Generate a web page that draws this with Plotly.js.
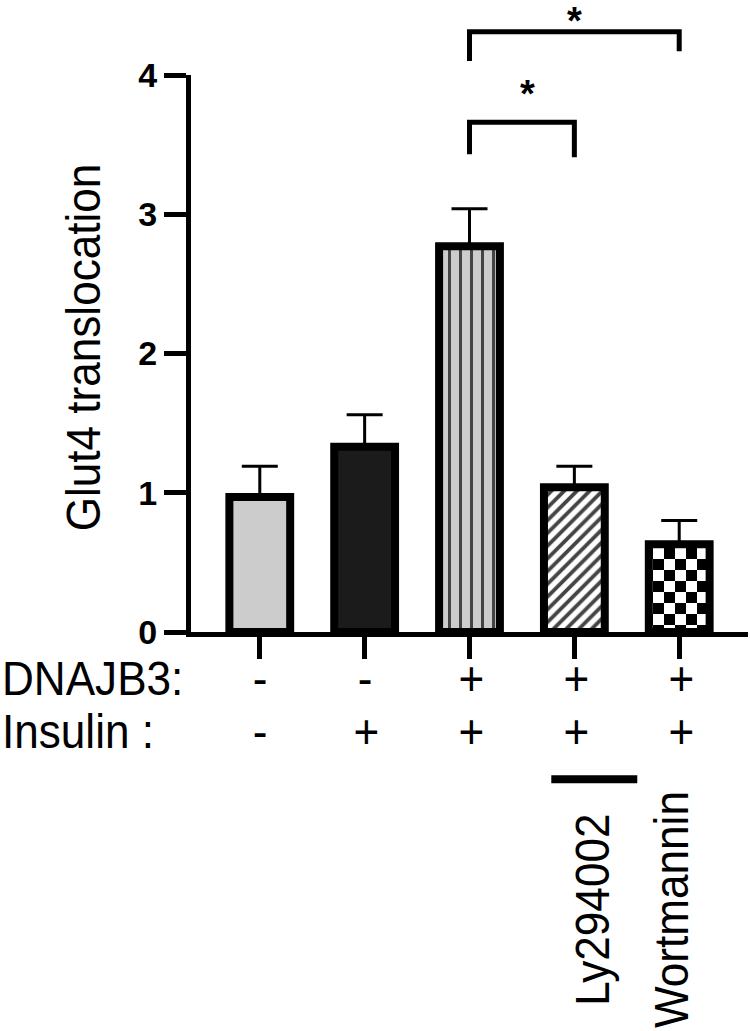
<!DOCTYPE html>
<html>
<head>
<meta charset="utf-8">
<script src="https://cdn.plot.ly/plotly-3.0.1.min.js"></script>
<style>
  html, body { margin: 0; padding: 0; background: #fff; }
  #chart { width: 750px; height: 1031px; }
</style>
</head>
<body>
<div id="chart"></div>
<script>
// groups, left to right
var categories = ['Control', 'Insulin', 'DNAJB3 + Insulin', 'DNAJB3 + Insulin + Ly294002', 'DNAJB3 + Insulin + Wortmannin'];
var meanValues = [0.97, 1.33, 2.77, 1.04, 0.63];
var semValues = [0.22, 0.23, 0.27, 0.15, 0.17];

// condition rows under the axis
var dnajb3Signs = ['-', '-', '+', '+', '+'];
var insulinSigns = ['-', '+', '+', '+', '+'];
var inhibitorLabels = ['', '', '', 'Ly294002', 'Wortmannin'];

// significance brackets (group index from / to, bar top, leg ends)
var bracketFrom = [2, 2];
var bracketTo = [3, 4];
var bracketTop = [3.66, 4.31];
var bracketLeftEnd = [3.43, 4.10];
var bracketRightEnd = [3.41, 4.17];
var bracketMarks = ['*', '*'];

var yMax = 4;
var font = 'Liberation Sans, Arial, Helvetica, sans-serif';
var textSize = 49;
var narrow = 0.9;   // the figure uses a condensed sans

var fillColors = ['#cccccc', '#1b1b1b', '#cccccc', '#ffffff', '#ffffff'];
var patternShapes = ['', '', '|', '/', '+'];
var patternSizes = [8, 8, 11, 9, 11];
var patternSolid = [0.3, 0.3, 0.27, 0.42, 0.3];

var gd = document.getElementById('chart');

var traceBars = {
  type: 'bar',
  x: categories,
  y: meanValues,
  width: 0.58,
  marker: {
    color: fillColors,
    line: {color: '#000', width: 8},
    pattern: {
      shape: patternShapes,
      size: patternSizes,
      solidity: patternSolid,
      fgcolor: '#000000',
      fgopacity: 1,
      bgcolor: fillColors,
      fillmode: 'overlay'
    }
  },
  error_y: {
    type: 'data',
    symmetric: false,
    array: semValues,
    arrayminus: semValues.map(function () { return 0; }),
    color: '#000',
    thickness: 3,
    width: 18
  },
  hoverinfo: 'skip'
};

function py(v) { return v / yMax; }   // data value -> paper y (domain [0,1], range [0,yMax])

var annotations = [];
var shapes = [];

// y title
annotations.push({
  xref: 'paper', yref: 'paper', x: -0.194, y: 0.512,
  text: 'Glut4 translocation', textangle: -90, showarrow: false,
  xanchor: 'center', yanchor: 'middle',
  font: {family: font, size: textSize, color: '#000'}
});

// row labels
var rowY = [-0.082, -0.178];
var rowNames = ['DNAJB3:', 'Insulin :'];
var rowSigns = [dnajb3Signs, insulinSigns];
for (var r = 0; r < rowNames.length; r++) {
  annotations.push({
    xref: 'paper', yref: 'paper', x: -0.343, y: rowY[r],
    text: rowNames[r], showarrow: false, xanchor: 'left', yanchor: 'middle',
    font: {family: font, size: textSize, color: '#000'}
  });
  for (var i = 0; i < categories.length; i++) {
    annotations.push({
      xref: 'x', yref: 'paper', x: i, y: rowY[r],
      text: rowSigns[r][i], showarrow: false, xanchor: 'center', yanchor: 'middle',
      xshift: rowSigns[r][i] === '+' ? 2 : 0,
      font: {family: font, size: textSize, color: '#000'}
    });
  }
}

// inhibitor labels (rotated) and the bar under Ly294002
var inhibShift = [0, 0, 0, 18, -8];
for (var j = 0; j < categories.length; j++) {
  if (!inhibitorLabels[j]) continue;
  annotations.push({
    xref: 'x', yref: 'paper', x: j, xshift: inhibShift[j], y: -0.499,
    text: inhibitorLabels[j], textangle: -90, showarrow: false,
    xanchor: 'center', yanchor: 'middle',
    font: {family: font, size: textSize, color: '#000'}
  });
}
shapes.push({
  type: 'line', xref: 'x', yref: 'paper',
  x0: 2.78, x1: 3.60, y0: -0.2645, y1: -0.2645,
  line: {color: '#000', width: 8}
});

// significance brackets
for (var b = 0; b < bracketFrom.length; b++) {
  var x0 = bracketFrom[b], x1 = bracketTo[b];
  shapes.push({
    type: 'path', xref: 'x', yref: 'paper',
    path: 'M' + x0 + ',' + py(bracketLeftEnd[b]) +
          ' L' + x0 + ',' + py(bracketTop[b]) +
          ' L' + x1 + ',' + py(bracketTop[b]) +
          ' L' + x1 + ',' + py(bracketRightEnd[b]),
    line: {color: '#000', width: 5}
  });
  annotations.push({
    xref: 'x', yref: 'paper', x: (x0 + x1) / 2, y: py(bracketTop[b]),
    text: bracketMarks[b], showarrow: false, xanchor: 'center', yanchor: 'bottom',
    xshift: b === 0 ? 6 : 0, yshift: b === 0 ? 5 : -12,
    font: {family: font, size: 38, color: '#000', weight: 'bold'}
  });
}

var layout = {
  width: 750,
  height: 1031,
  margin: {l: 191, r: 2, t: 75, b: 399},
  paper_bgcolor: '#fff',
  plot_bgcolor: '#fff',
  showlegend: false,
  xaxis: {
    type: 'category',
    range: [-0.656, 4.656],
    showticklabels: false,
    showgrid: false,
    zeroline: false,
    showline: true,
    linecolor: '#000',
    linewidth: 5,
    ticks: 'outside',
    ticklen: 22,
    tickwidth: 5,
    tickcolor: '#000',
    fixedrange: true
  },
  yaxis: {
    range: [0, yMax],
    tickvals: [0, 1, 2, 3, 4],
    showgrid: false,
    zeroline: false,
    showline: true,
    linecolor: '#000',
    linewidth: 5,
    ticks: 'outside',
    ticklen: 22,
    tickwidth: 5,
    tickcolor: '#000',
    tickfont: {family: font, size: 34, color: '#000', weight: 'bold'},
    fixedrange: true
  },
  annotations: annotations,
  shapes: shapes
};

var config = {staticPlot: true, displayModeBar: false};

Plotly.newPlot(gd, [traceBars], layout, config).then(function () {
  // condensed look for the regular text (the stars keep their shape)
  gd.querySelectorAll('.annotation-text').forEach(function (t) {
    if (t.textContent === '*') return;
    var leftAligned = t.textContent === 'DNAJB3:' || t.textContent === 'Insulin :';
    t.style.transformBox = 'fill-box';
    t.style.transformOrigin = leftAligned ? 'left center' : 'center center';
    t.style.transform = 'scaleX(' + narrow + ')';
  });

  // Plotly has no checkerboard pattern: rewrite the last bar's pattern tile
  var pts = gd.querySelectorAll('.barlayer .point path');
  if (!pts.length) return;
  var last = pts[pts.length - 1];
  var m = /#([^"')]+)/.exec(last.style.fill || '');
  if (!m) return;
  var pat = document.getElementById(m[1]);
  if (!pat) return;
  var s = 11;
  var ns = 'http://www.w3.org/2000/svg';
  pat.setAttribute('width', 2 * s);
  pat.setAttribute('height', 2 * s);
  pat.removeAttribute('patternTransform');
  while (pat.firstChild) pat.removeChild(pat.firstChild);
  [[0, 0, 2 * s, 2 * s, '#fff'], [0, 0, s, s, '#000'], [s, s, s, s, '#000']].forEach(function (c) {
    var rect = document.createElementNS(ns, 'rect');
    rect.setAttribute('x', c[0]);
    rect.setAttribute('y', c[1]);
    rect.setAttribute('width', c[2]);
    rect.setAttribute('height', c[3]);
    rect.setAttribute('fill', c[4]);
    pat.appendChild(rect);
  });
});
</script>
</body>
</html>
